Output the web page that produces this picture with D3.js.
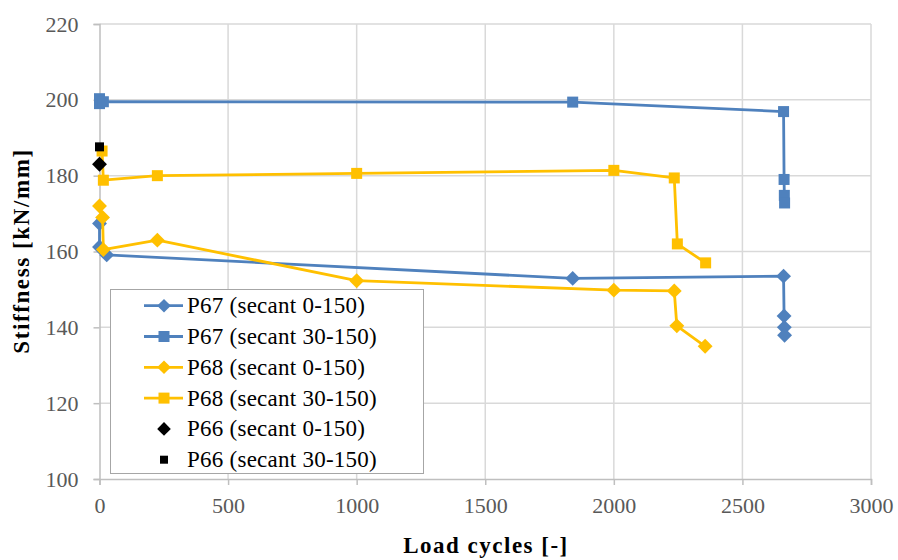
<!DOCTYPE html>
<html>
<head>
<meta charset="utf-8">
<script src="https://cdn.jsdelivr.net/npm/d3@7"></script>
</head>
<body style="margin:0">
<svg id="chart" width="898" height="560" font-family="Liberation Serif"></svg>
<script>
// load cycles / stiffness values
var p67s0X = [0, 0, 28, 1840, 2660, 2662, 2663, 2664];
var p67s0Y = [167.4, 161.2, 159.1, 152.9, 153.5, 143.0, 140.0, 137.9];
var p67s30X = [0, 0, 15, 1840, 2660, 2662, 2663, 2664];
var p67s30Y = [200.3, 199.0, 199.5, 199.4, 196.9, 179.0, 174.8, 172.8];
var p68s0X = [0, 12, 15, 225, 1000, 2000, 2235, 2245, 2355];
var p68s0Y = [172.0, 169.0, 160.5, 163.0, 152.3, 149.8, 149.6, 140.4, 135.0];
var p68s30X = [10, 15, 225, 1000, 2000, 2235, 2247, 2357];
var p68s30Y = [186.5, 178.8, 180.0, 180.6, 181.4, 179.4, 162.0, 157.0];
var p66s0X = [0];
var p66s0Y = [183.0];
var p66s30X = [0];
var p66s30Y = [187.6];

var xTicks = [0, 500, 1000, 1500, 2000, 2500, 3000];
var yTicks = [100, 120, 140, 160, 180, 200, 220];
var seriesNames = [
  "P67 (secant 0-150)", "P67 (secant 30-150)",
  "P68 (secant 0-150)", "P68 (secant 30-150)",
  "P66 (secant 0-150)", "P66 (secant 30-150)"
];

var blue = "#4f81bd", yellow = "#ffc000";
var series = [
  { name: seriesNames[0], x: p67s0X, y: p67s0Y, color: blue, marker: "diamond", line: true },
  { name: seriesNames[1], x: p67s30X, y: p67s30Y, color: blue, marker: "square", line: true },
  { name: seriesNames[2], x: p68s0X, y: p68s0Y, color: yellow, marker: "diamond", line: true },
  { name: seriesNames[3], x: p68s30X, y: p68s30Y, color: yellow, marker: "square", line: true },
  { name: seriesNames[4], x: p66s0X, y: p66s0Y, color: "#000", marker: "diamond", line: false },
  { name: seriesNames[5], x: p66s30X, y: p66s30Y, color: "#000", marker: "square", line: false }
];

var svg = d3.select("#chart");
var x = d3.scaleLinear().domain([0, 3000]).range([99.5, 871]);
var y = d3.scaleLinear().domain([100, 220]).range([479, 24]);

// grid
svg.append("g")
  .attr("stroke", "#d9d9d9")
  .attr("stroke-width", 1.5)
  .selectAll("line")
  .data(yTicks.slice(1))
  .join("line")
  .attr("x1", x(0)).attr("x2", x(3000))
  .attr("y1", (d) => y(d)).attr("y2", (d) => y(d));
svg.append("g")
  .attr("stroke", "#d9d9d9")
  .attr("stroke-width", 1.5)
  .selectAll("line")
  .data(xTicks.slice(1))
  .join("line")
  .attr("x1", (d) => x(d)).attr("x2", (d) => x(d))
  .attr("y1", y(100)).attr("y2", y(220));

// axes
var xAxis = svg.append("g")
  .attr("transform", `translate(0,${y(100)})`)
  .call(d3.axisBottom(x).tickValues(xTicks).tickSize(6).tickPadding(12).tickFormat(d3.format("d")));
var yAxis = svg.append("g")
  .attr("transform", `translate(${x(0)},0)`)
  .call(d3.axisLeft(y).tickValues(yTicks).tickSize(6).tickPadding(15).tickFormat(d3.format("d")));
[xAxis, yAxis].forEach(function (a) {
  a.attr("font-family", "Liberation Serif").attr("font-size", 22);
  a.select(".domain").attr("stroke", "#bfbfbf").attr("stroke-width", 1.5);
  a.selectAll(".tick line").attr("stroke", "#bfbfbf").attr("stroke-width", 1.5);
  a.selectAll(".tick text").attr("fill", "#595959");
});

// marker helper
function marker(sel, kind, color, size) {
  if (kind === "square") {
    sel.append("rect")
      .attr("x", -size / 2).attr("y", -size / 2)
      .attr("width", size).attr("height", size)
      .attr("fill", color);
  } else {
    var h = size * 0.62;
    sel.append("path")
      .attr("d", `M0,${-h}L${h},0L0,${h}L${-h},0Z`)
      .attr("fill", color);
  }
}

var line = d3.line().x((d) => x(d[0])).y((d) => y(d[1]));

series.forEach(function (s) {
  var pts = s.x.map((v, i) => [v, s.y[i]]);
  var g = svg.append("g");
  if (s.line) {
    g.append("path")
      .datum(pts)
      .attr("d", line)
      .attr("fill", "none")
      .attr("stroke", s.color)
      .attr("stroke-width", 2.8)
      .attr("stroke-linejoin", "round");
  }
  pts.forEach(function (p) {
    var m = g.append("g").attr("transform", `translate(${x(p[0])},${y(p[1])})`);
    marker(m, s.marker, s.color, s.marker === "square" ? (s.line ? 11 : 9) : 12);
  });
});

// legend
var legend = svg.append("g");
legend.append("rect")
  .attr("x", 110.5).attr("y", 289.5)
  .attr("width", 313).attr("height", 184)
  .attr("fill", "#fff")
  .attr("stroke", "#a6a6a6")
  .attr("stroke-width", 1);
series.forEach(function (s, i) {
  var cy = 305.7 + i * 30.8;
  var row = legend.append("g");
  if (s.line) {
    row.append("line")
      .attr("x1", 144).attr("x2", 183)
      .attr("y1", cy).attr("y2", cy)
      .attr("stroke", s.color).attr("stroke-width", 2.8);
  }
  var m = row.append("g").attr("transform", `translate(164,${cy})`);
  marker(m, s.marker, s.color, s.marker === "square" ? (s.line ? 11 : 8) : 11);
  row.append("text")
    .attr("x", 187).attr("y", cy + 7.5)
    .attr("font-size", 23)
    .attr("letter-spacing", 0.25)
    .attr("fill", "#000")
    .text(s.name);
});

// axis titles
svg.append("text")
  .attr("x", 486).attr("y", 553)
  .attr("text-anchor", "middle")
  .attr("font-size", 23)
  .attr("font-weight", "bold")
  .attr("letter-spacing", 1.5)
  .text("Load cycles [-]");
svg.append("text")
  .attr("transform", `translate(29,${251}) rotate(-90)`)
  .attr("text-anchor", "middle")
  .attr("font-size", 23)
  .attr("font-weight", "bold")
  .attr("letter-spacing", 1.6)
  .text("Stiffness [kN/mm]");
</script>
</body>
</html>
